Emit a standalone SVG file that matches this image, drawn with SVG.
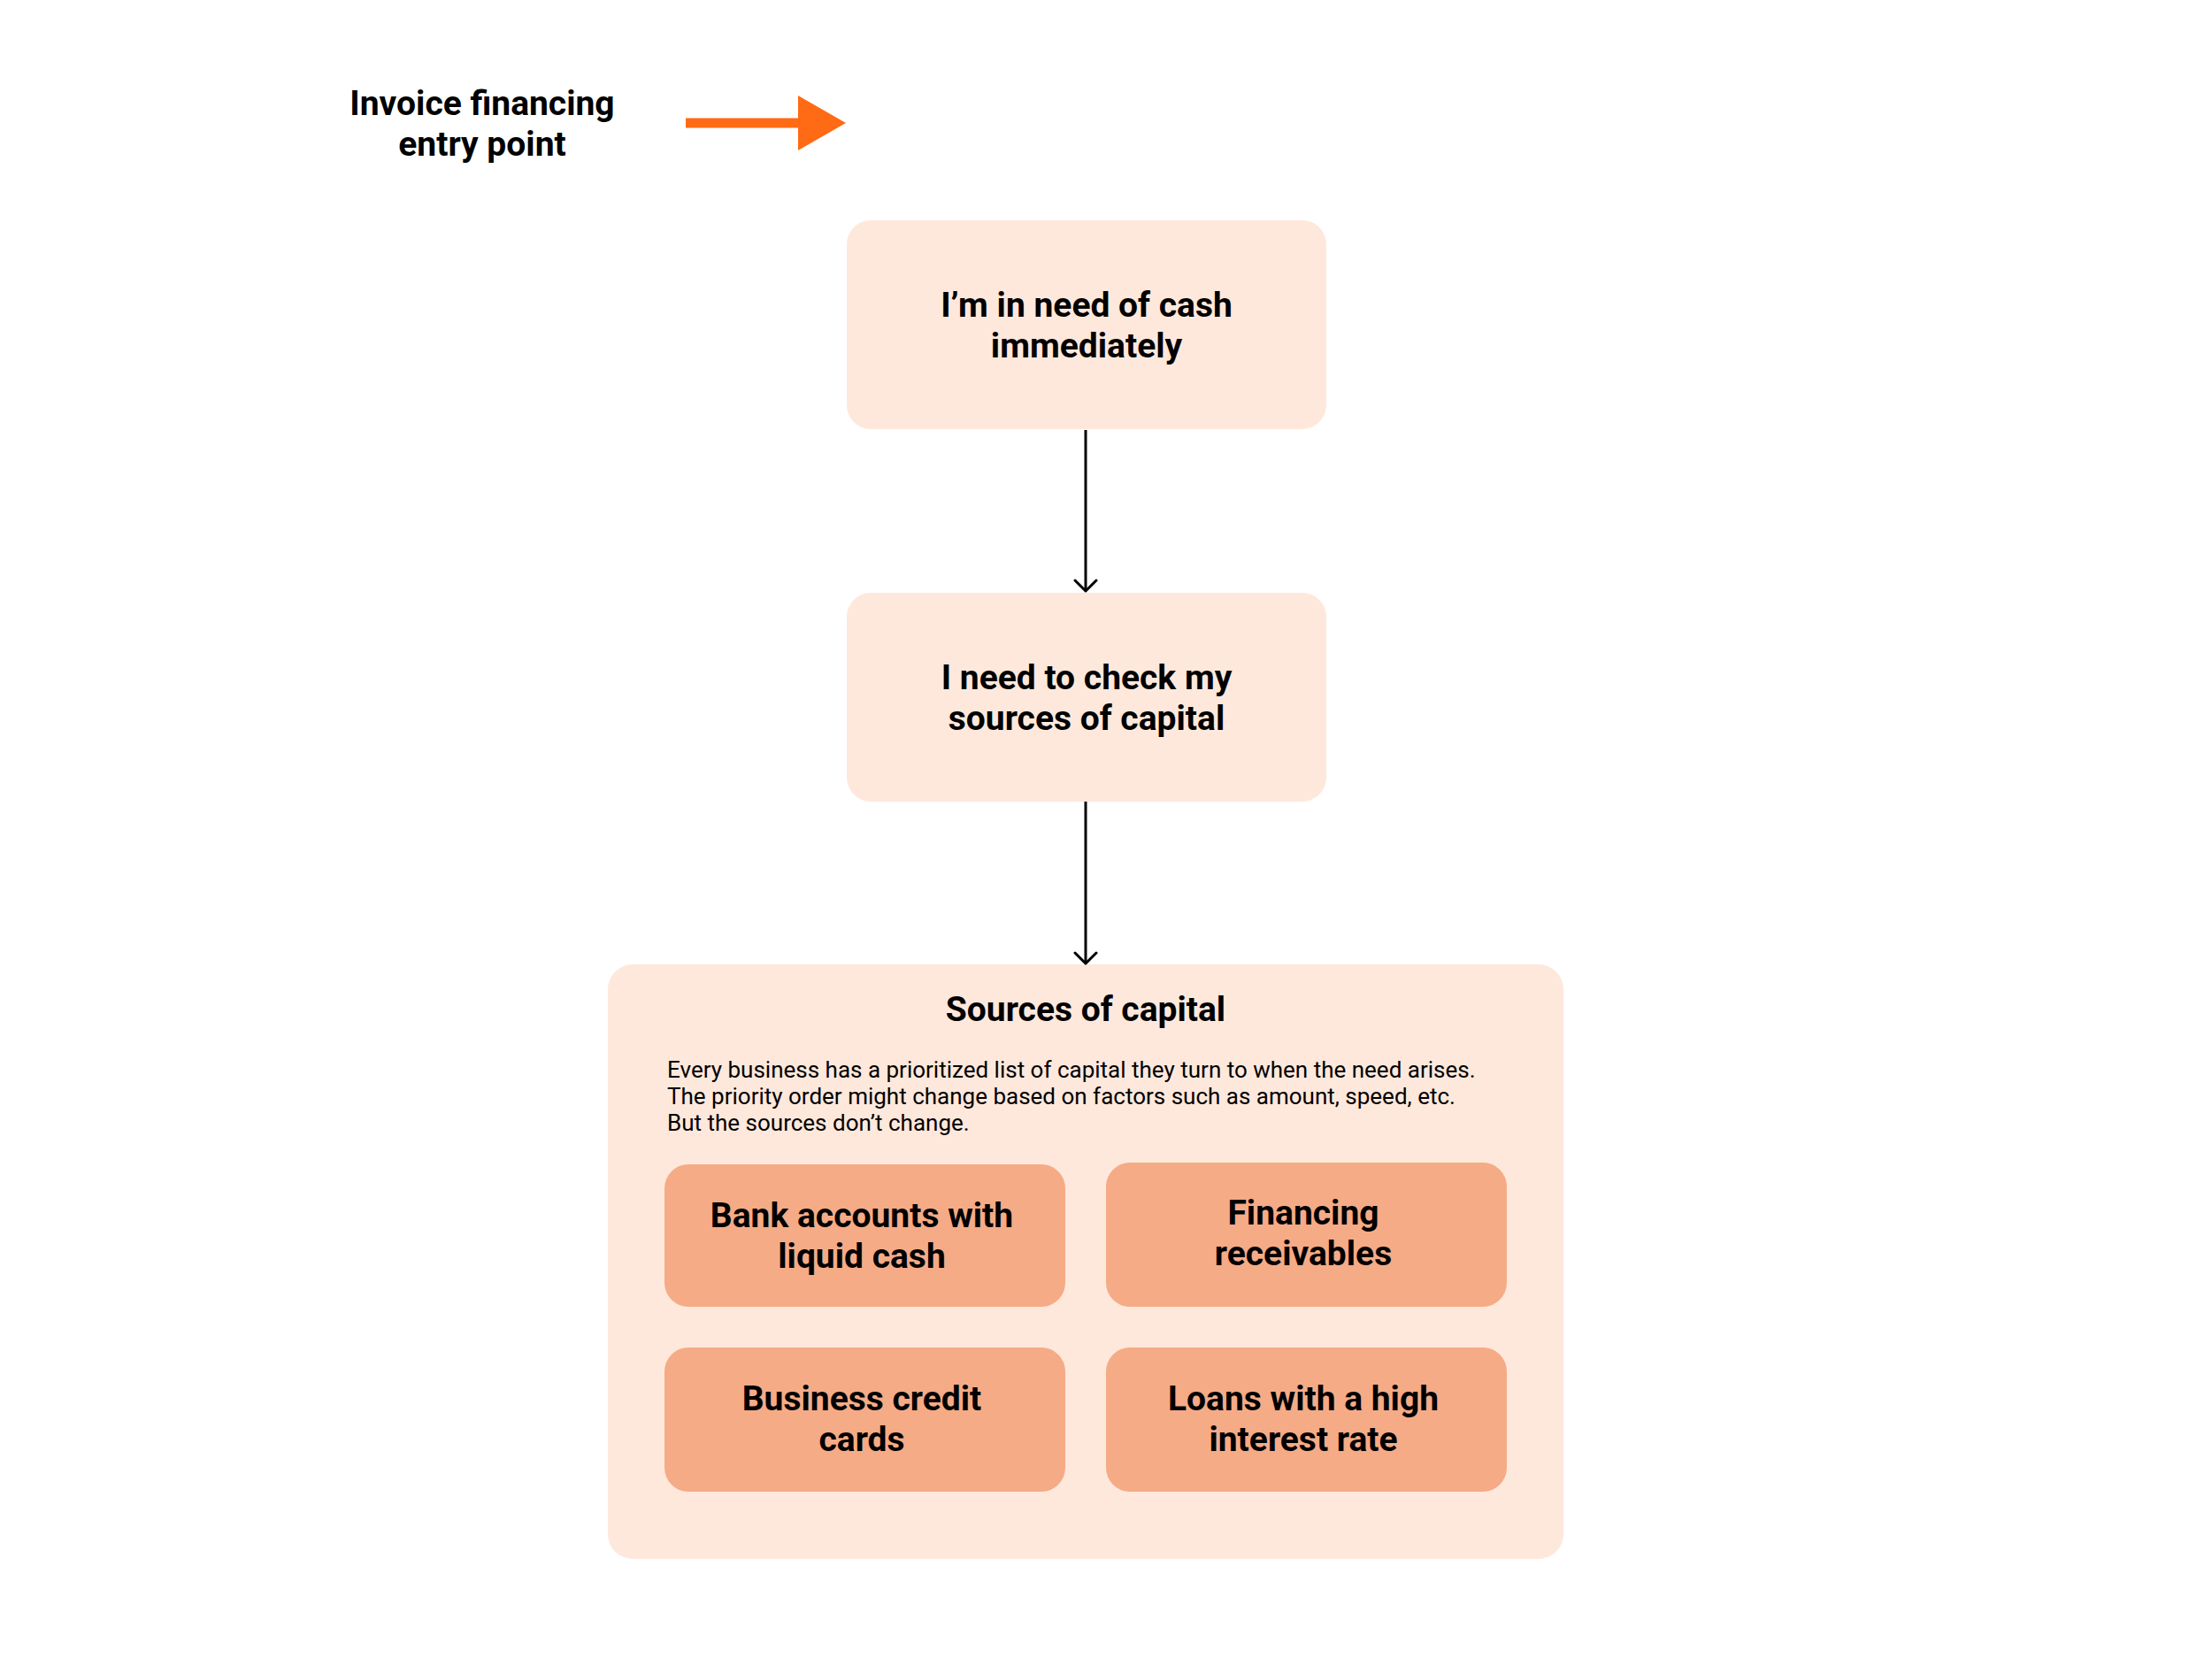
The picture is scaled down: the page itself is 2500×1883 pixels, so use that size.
<svg xmlns="http://www.w3.org/2000/svg" width="2500" height="1883" viewBox="0 0 2500 1883">
  <style>
    .title { font-family: Roboto, "Liberation Sans", sans-serif; font-weight: 700; font-size: 39px; fill: #000; text-anchor: middle; }
    .body { font-family: Roboto, "Liberation Sans", sans-serif; font-weight: 400; font-size: 26px; fill: #000; }
    .light { fill: #FEE8DC; }
    .inner { fill: #F5AB86; }
    .conn { stroke: #000; stroke-width: 3; fill: none; }
  </style>
  <defs>
    <marker id="chev" viewBox="0 0 16 28" refX="14" refY="14" markerWidth="16" markerHeight="28" markerUnits="userSpaceOnUse" orient="auto">
      <path d="M2,2 L14,14 L2,26" fill="none" stroke="#000" stroke-width="3" stroke-linecap="round" stroke-linejoin="round"/>
    </marker>
  </defs>
  <rect width="2500" height="1883" fill="#FFFFFF"/>

  <g id="entry-label">
    <text class="title" x="545" y="130">Invoice financing</text>
    <text class="title" x="545" y="176">entry point</text>
  </g>

  <g id="node-need-cash">
    <rect class="light" x="957" y="249" width="542" height="236" rx="27"/>
    <text class="title" x="1228" y="358">I’m in need of cash</text>
    <text class="title" x="1228" y="404">immediately</text>
  </g>

  <g id="node-check-sources">
    <rect class="light" x="957" y="670" width="542" height="236" rx="27"/>
    <text class="title" x="1228" y="779">I need to check my</text>
    <text class="title" x="1228" y="825">sources of capital</text>
  </g>

  <g id="node-sources">
    <rect class="light" x="687" y="1090" width="1080" height="672" rx="28"/>
    <text class="title" x="1227" y="1154">Sources of capital</text>
    <text class="body" x="754" y="1218">Every business has a prioritized list of capital they turn to when the need arises.</text>
    <text class="body" x="754" y="1248">The priority order might change based on factors such as amount, speed, etc.</text>
    <text class="body" x="754" y="1278">But the sources don’t change.</text>
  </g>

  <g id="node-bank">
    <rect class="inner" x="751" y="1316" width="453" height="161" rx="27"/>
    <text class="title" x="974" y="1387">Bank accounts with</text>
    <text class="title" x="974" y="1433">liquid cash</text>
  </g>

  <g id="node-financing">
    <rect class="inner" x="1250" y="1314" width="453" height="163" rx="27"/>
    <text class="title" x="1473" y="1384">Financing</text>
    <text class="title" x="1473" y="1430">receivables</text>
  </g>

  <g id="node-cards">
    <rect class="inner" x="751" y="1523" width="453" height="163" rx="27"/>
    <text class="title" x="974" y="1594">Business credit</text>
    <text class="title" x="974" y="1640">cards</text>
  </g>

  <g id="node-loans">
    <rect class="inner" x="1250" y="1523" width="453" height="163" rx="27"/>
    <text class="title" x="1473" y="1594">Loans with a high</text>
    <text class="title" x="1473" y="1640">interest rate</text>
  </g>

  <g id="connectors">
    <g id="entry-arrow">
      <rect x="775" y="133.5" width="128" height="11" fill="#FF6A14"/>
      <polygon points="902,108 956,139 902,170" fill="#FF6A14"/>
    </g>
    <path class="conn" d="M1227,486 L1227,668" marker-end="url(#chev)"/>
    <path class="conn" d="M1227,906 L1227,1089" marker-end="url(#chev)"/>
  </g>
</svg>
